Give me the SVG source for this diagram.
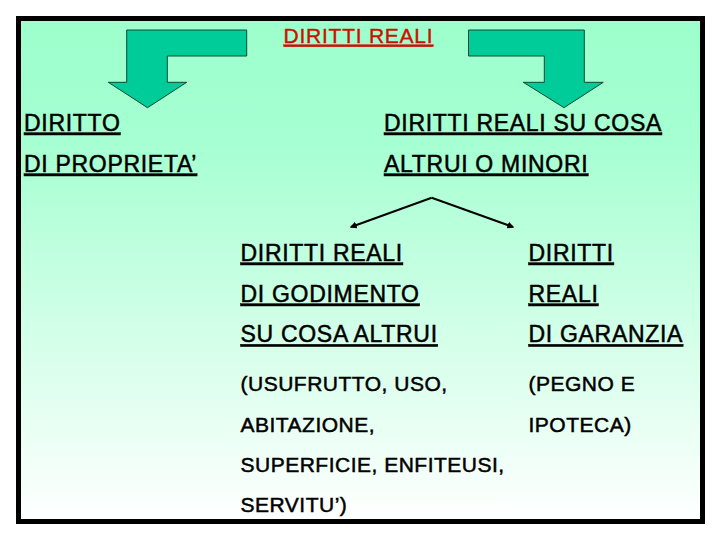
<svg xmlns="http://www.w3.org/2000/svg" width="720" height="540" viewBox="0 0 720 540">
<defs>
<linearGradient id="bg" x1="0" y1="0" x2="0" y2="1">
<stop offset="0" stop-color="#9CFFCC"/>
<stop offset="0.25" stop-color="#A6FFD2"/>
<stop offset="1" stop-color="#FFFFFF"/>
</linearGradient>
<marker id="ah" viewBox="0 0 10 10" refX="8" refY="5" markerWidth="3.5" markerHeight="3.5" orient="auto" markerUnits="strokeWidth">
<path d="M0,0 L10,5 L0,10 z" fill="#000"/>
</marker>
<style>
.t{font-family:"Liberation Sans",Arial,sans-serif;font-size:23px;letter-spacing:0.7px;fill:#000;stroke:#000;stroke-width:0.5px;}
.u{text-decoration:underline;}
.p{font-size:21px;letter-spacing:0.5px;}
.title{font-family:"Liberation Sans",Arial,sans-serif;font-size:21px;letter-spacing:0.75px;fill:#CC1100;stroke:#CC1100;stroke-width:0.4px;text-decoration:underline;}
.arrow{fill:#00CC99;stroke:#0B4A33;stroke-width:1;}
.conn{fill:none;stroke:#000;stroke-width:2;}
</style>
</defs>
<rect x="0" y="0" width="720" height="540" fill="#FFFFFF"/>
<rect x="18.5" y="18.5" width="684" height="503" fill="url(#bg)" stroke="#000" stroke-width="5"/>

<g id="title"><text class="title" x="283.6" y="42.7">DIRITTI REALI</text></g>

<g id="arrow-left"><polygon class="arrow" points="246.7,30 126.7,30 126.7,82.3 108.3,82.3 147.5,107.7 186.7,82.3 167.3,82.3 167.3,56 246.7,56"/></g>
<g id="arrow-right"><polygon class="arrow" points="468.5,30 584.3,30 584.3,82.3 603.3,82.3 564,107.7 523.3,82.3 544.3,82.3 544.3,56 468.5,56"/></g>

<g id="node-proprieta">
<text class="t u" x="24" y="130.7">DIRITTO</text>
<text class="t u" x="24" y="171.7">DI PROPRIETA’</text>
</g>
<g id="node-cosa-altrui">
<text class="t u" x="384" y="130.7">DIRITTI REALI SU COSA</text>
<text class="t u" x="384" y="171.7">ALTRUI O MINORI</text>
</g>

<g id="connectors">
<polyline class="conn" points="431.7,197.7 351,227" marker-end="url(#ah)"/>
<polyline class="conn" points="431.7,197.7 513,227" marker-end="url(#ah)"/>
</g>

<g id="node-godimento">
<text class="t u" x="240.5" y="260.7">DIRITTI REALI</text>
<text class="t u" x="240.5" y="301.7">DI GODIMENTO</text>
<text class="t u" x="240.5" y="342.3">SU COSA ALTRUI</text>
<text class="t p" x="240.5" y="391">(USUFRUTTO, USO,</text>
<text class="t p" x="240.5" y="431.5">ABITAZIONE,</text>
<text class="t p" x="240.5" y="471.5">SUPERFICIE, ENFITEUSI,</text>
<text class="t p" x="240.5" y="511.5">SERVITU’)</text>
</g>
<g id="node-garanzia">
<text class="t u" x="528.5" y="260.7">DIRITTI</text>
<text class="t u" x="528.5" y="301.7">REALI</text>
<text class="t u" x="528.5" y="342.3">DI GARANZIA</text>
<text class="t p" x="528.5" y="391">(PEGNO E</text>
<text class="t p" x="528.5" y="431.5">IPOTECA)</text>
</g>
</svg>
